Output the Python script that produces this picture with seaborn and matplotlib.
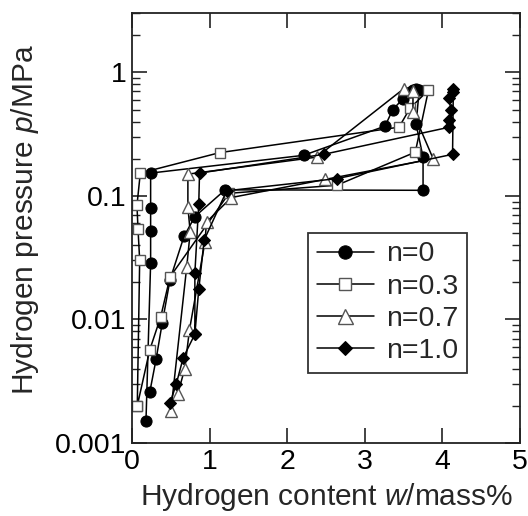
import matplotlib
matplotlib.use("Agg")
import matplotlib.pyplot as plt
import matplotlib.ticker as mticker
import seaborn as sns
import pandas as pd

# ---- data ----
labels = ["n=0", "n=0.3", "n=0.7", "n=1.0"]

w_n0 = [0.18, 0.24, 0.24, 0.24, 0.24, 2.21, 3.26, 3.36, 3.49, 3.58, 3.62, 3.66,
        3.70, 3.66, 3.75, 3.75, 1.20, 0.81, 0.67, 0.49, 0.39, 0.31, 0.23]
p_n0 = [0.0015, 0.0285, 0.052, 0.080, 0.153, 0.213, 0.367, 0.50, 0.61, 0.69, 0.72, 0.73,
        0.72, 0.38, 0.206, 0.111, 0.112, 0.068, 0.047, 0.021, 0.0094, 0.00475, 0.0026]

w_n03 = [0.068, 0.099, 0.077, 0.064, 0.107, 1.13, 3.44, 3.58, 3.82,
         3.65, 2.64, 1.25, 0.49, 0.37, 0.228, 0.068]
p_n03 = [0.0020, 0.0302, 0.0544, 0.084, 0.153, 0.224, 0.36, 0.51, 0.72,
         0.226, 0.122, 0.105, 0.0221, 0.0105, 0.00565, 0.0020]

w_n07 = [0.50, 0.705, 0.75, 0.72, 0.72, 2.38, 3.50, 3.62, 3.62, 3.88, 2.49, 1.28,
         0.96, 0.94, 0.74, 0.68, 0.59]
p_n07 = [0.0018, 0.0266, 0.051, 0.081, 0.150, 0.206, 0.736, 0.70, 0.48, 0.20, 0.136, 0.097,
         0.0615, 0.0424, 0.0082, 0.0040, 0.0025]

w_n10 = [0.49, 0.57, 0.66, 0.81, 0.81, 0.86, 0.87, 2.47, 4.09, 4.08, 4.11, 4.08, 4.13, 4.14,
         4.13, 2.64, 1.22, 0.93, 0.86, 0.81]
p_n10 = [0.0021, 0.0030, 0.0049, 0.0076, 0.0238, 0.0855, 0.153, 0.217, 0.36, 0.41, 0.50, 0.62, 0.69, 0.736,
         0.217, 0.138, 0.110, 0.044, 0.0175, 0.0076]

x_ticks = [0, 1, 2, 3, 4, 5]
y_ticks = [0.001, 0.01, 0.1, 1]
y_ticklabels = ["0.001", "0.01", "0.1", "1"]

# ---- style ----
sns.set_style("ticks")
plt.rcParams["font.family"] = ["Liberation Sans", "DejaVu Sans"]
plt.rcParams["mathtext.fontset"] = "custom"
plt.rcParams["mathtext.rm"] = "Liberation Sans"
plt.rcParams["mathtext.it"] = "Liberation Sans:italic"

fig = plt.figure(figsize=(5.28, 5.16), dpi=100)
ax = fig.add_axes([0.25, 0.1415, 0.735, 0.8325])

series = [
    (w_n0, p_n0, dict(marker="o", markersize=8, markerfacecolor="black", markeredgecolor="black")),
    (w_n03, p_n03, dict(marker="s", markersize=7.5, markerfacecolor="white", markeredgecolor="#555555", markeredgewidth=1.0)),
    (w_n07, p_n07, dict(marker="^", markersize=9, markerfacecolor="white", markeredgecolor="#555555", markeredgewidth=1.0)),
    (w_n10, p_n10, dict(marker="D", markersize=6, markerfacecolor="black", markeredgecolor="black")),
]

for (wx, py, mk), lab in zip(series, labels):
    df = pd.DataFrame({"w": wx, "p": py})
    sns.lineplot(data=df, x="w", y="p", sort=False, estimator=None, ax=ax,
                 color="black", linewidth=1.1, label=lab, **mk)

ax.set_yscale("log")
ax.set_xlim(0, 5)
ax.set_ylim(0.001, 3)
ax.set_xticks(x_ticks)
ax.set_xticklabels([str(t) for t in x_ticks])
ax.set_yticks(y_ticks)
ax.set_yticklabels(y_ticklabels)
ax.yaxis.set_minor_locator(mticker.LogLocator(base=10, subs=range(2, 10), numticks=20))
ax.yaxis.set_minor_formatter(mticker.NullFormatter())

ax.tick_params(which="major", direction="in", length=11, width=1.2, top=True, right=True,
               labelsize=20.5, colors="#222222", labelcolor="black")
ax.tick_params(axis="y", which="major", pad=4)
ax.tick_params(axis="x", which="major", pad=4)
ax.tick_params(which="minor", direction="in", length=6, width=1.0, top=True, right=True,
               colors="#222222")
for s in ax.spines.values():
    s.set_linewidth(1.3)
    s.set_color("#222222")

ax.set_xlabel("Hydrogen content $\\mathit{w}$/mass%", fontsize=21.5, labelpad=5)
ax.set_ylabel("Hydrogen pressure $\\mathit{p}$/MPa", fontsize=21.5)
ax.yaxis.set_label_coords(-0.235, 0.52)

leg = ax.legend(loc="upper left", bbox_to_anchor=(0.454, 0.489), fontsize=20.5,
                frameon=True, fancybox=False, edgecolor="black", handlelength=2.0,
                labelspacing=0.22, borderpad=0.3, handletextpad=0.45, borderaxespad=0,
                markerscale=1.2)
leg.get_frame().set_linewidth(1.3)

fig.savefig("out.png", dpi=100)
